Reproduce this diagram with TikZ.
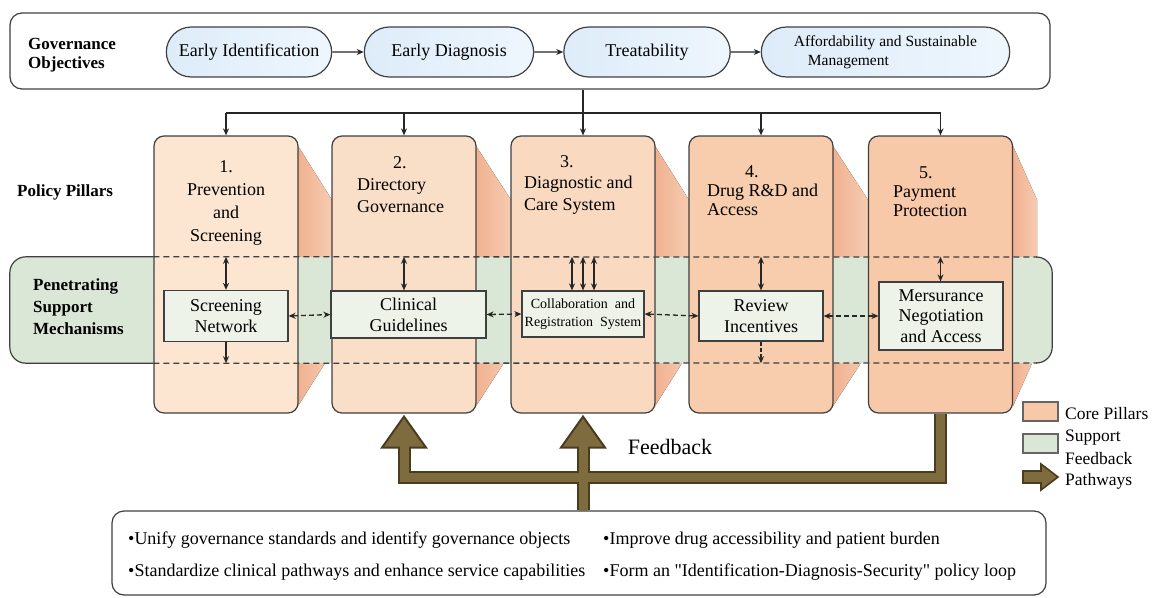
\documentclass[tikz,border=0pt]{standalone}
\usepackage{fontspec}
\setmainfont{Liberation Serif}
\usepackage{tikz}
\usetikzlibrary{shapes.geometric, shapes.misc, arrows.meta}

\definecolor{linegray}{HTML}{3F3F3F}
\definecolor{pillblue}{HTML}{DDECF9}
\definecolor{pillwhite}{HTML}{EEF6FD}
\definecolor{core1}{HTML}{FCE6D2}
\definecolor{core2}{HTML}{FADFC8}
\definecolor{core3}{HTML}{F9DAC1}
\definecolor{core4}{HTML}{F8CDAE}
\definecolor{core5}{HTML}{F8C9A8}
\definecolor{sidedark}{HTML}{F0B190}
\definecolor{sidelight}{HTML}{F6CBB1}
\definecolor{bandgreen}{HTML}{DBE7D6}
\definecolor{innerfill}{HTML}{EEF3E9}
\definecolor{fbbrown}{HTML}{7E6B3E}
\definecolor{fbdark}{HTML}{4A3C1F}

\begin{document}
\begin{tikzpicture}[x=1pt, y=-1pt, >={Stealth[length=7pt, width=6pt]}]
        \tikzstyle{panel} = [rectangle, rounded corners=12pt, draw=linegray, line width=1.2pt, fill=white]
        \tikzstyle{pill} = [rounded rectangle, draw=linegray, line width=1.2pt, minimum height=50pt, left color=pillblue, right color=pillwhite, font=\fontsize{18}{20}\selectfont]
        \tikzstyle{pillar} = [rectangle, rounded corners=10pt, draw=linegray, line width=1.2pt, minimum width=144pt, minimum height=277pt]
        \tikzstyle{pillartitle} = [font=\fontsize{18}{22}\selectfont, align=left, anchor=west, inner sep=0pt]
        \tikzstyle{sidelabel} = [font=\bfseries\fontsize{17}{20}\selectfont, align=left, anchor=west, inner sep=0pt]
        \tikzstyle{mech} = [rectangle, draw=linegray, line width=1.2pt, fill=innerfill, align=center, inner sep=0pt, font=\fontsize{18}{21}\selectfont]
        \tikzstyle{arrow} = [line width=1.3pt, ->, draw=black!85]
        \tikzstyle{dblarrow} = [line width=1.3pt, <->, draw=black!85]
        \tikzstyle{dbldash} = [line width=1.3pt, <->, draw=black!85, dash pattern=on 5pt off 3pt]
        \tikzstyle{dashline} = [line width=1.3pt, draw=linegray, dash pattern=on 6pt off 4pt]
        \tikzstyle{fbout} = [line width=13pt, draw=fbdark, line join=miter]
        \tikzstyle{fbin} = [line width=9pt, draw=fbbrown, line join=miter]
        \tikzstyle{fbhead} = [fill=fbbrown, draw=fbdark, line width=2pt, line join=miter]
        \tikzstyle{legbox} = [rectangle, draw=linegray!80, line width=1.2pt, minimum width=35pt, minimum height=19pt]
        \tikzstyle{legtext} = [font=\fontsize{17.5}{21}\selectfont, align=left, anchor=west, inner sep=0pt]
        \tikzstyle{sumtext} = [font=\fontsize{18}{20}\selectfont, anchor=west, inner sep=0pt]

        \useasboundingbox (0,0) rectangle (1161,597);

        % Governance objectives
        \node (objbox) [panel, minimum width=1040pt, minimum height=76pt] at (530,51) {};
        \node (objlabel) [sidelabel, font=\bfseries\fontsize{17}{19}\selectfont] at (28,55.5) {Governance\\Objectives};
        \node (ident) [pill, minimum width=172pt] at (249,52) {Early Identification};
        \node (diag) [pill, minimum width=176pt] at (449,52) {Early Diagnosis};
        \node (treat) [pill, minimum width=173pt] at (647,52) {Treatability};
        \node (afford) [pill, minimum width=255pt, align=left, font=\fontsize{15.5}{19}\selectfont] at (885.5,52) {Affordability and Sustainable\\\hspace*{14pt}Management};

        \draw [arrow] (ident) -- (diag);
        \draw [arrow] (diag) -- (treat);
        \draw [arrow] (treat) -- (afford);

        % Pillar sides and support band
        \foreach \xr/\w in {298/34, 476/35, 655/34, 833/35, 1013/24}
            \fill [left color=sidedark, right color=sidelight] (\xr,146) -- (\xr+\w,200) -- (\xr+\w,352) -- (\xr,406) -- cycle;
        \node (band) [rectangle, rounded corners=16pt, fill=bandgreen, minimum width=1042pt, minimum height=106pt] at (531,310) {};

        % Pillars
        \node (p1) [pillar, fill=core1] at (226,274.5) {};
        \node (p2) [pillar, fill=core2] at (404,274.5) {};
        \node (p3) [pillar, fill=core3] at (583,274.5) {};
        \node (p4) [pillar, fill=core4] at (761,274.5) {};
        \node (p5) [pillar, fill=core5] at (940.5,274.5) {};

        \draw [line width=1.2pt, draw=linegray, rounded corners=16pt] (p1.west |- band.north) -- (band.north west) -- (band.south west) -- (p1.west |- band.south);
        \draw [line width=1.2pt, draw=linegray, rounded corners=16pt] (1037,257) -- (band.north east) -- (band.south east) -- (1037,363);
        \draw [dashline] (p1.west |- band.north) -- (1037,257);
        \draw [dashline] (p1.west |- band.south) -- (1037,363);

        % Labels
        \node (pillarlabel) [sidelabel] at (17,192) {Policy Pillars};
        \node (bandlabel) [sidelabel, font=\bfseries\fontsize{17}{22}\selectfont] at (33,307) {Penetrating\\Support\\Mechanisms};

        \node (t1) [pillartitle, align=center, anchor=center, font=\fontsize{18}{23}\selectfont] at (226,202.5) {1.\\Prevention\\and\\Screening};
        \node (t2) [pillartitle] at (357,185) {\hspace*{36pt}2.\\Directory\\Governance};
        \node (t3) [pillartitle, font=\fontsize{18}{21.5}\selectfont] at (524,184.5) {\hspace*{36pt}3.\\Diagnostic and\\Care System};
        \node (t4) [pillartitle, font=\fontsize{18}{19}\selectfont] at (707,191) {\hspace*{38pt}4.\\Drug R\&D and\\Access};
        \node (t5) [pillartitle, font=\fontsize{18}{19}\selectfont] at (893,191.5) {\hspace*{26pt}5.\\Payment\\Protection};

        % Support mechanisms
        \node (screen) [mech, minimum width=124pt, minimum height=51pt] at (226,316) {Screening\\Network};
        \node (guide) [mech, minimum width=155pt, minimum height=47pt] at (408.5,314.5) {Clinical\\Guidelines};
        \node (collab) [mech, minimum width=122pt, minimum height=46pt, font=\fontsize{14}{18}\selectfont] at (583,314) {Collaboration\ \ and\\Registration\ \ System};
        \node (review) [mech, minimum width=124pt, minimum height=50pt] at (761,316) {Review\\Incentives};
        \node (mers) [mech, minimum width=124pt, minimum height=68pt, font=\fontsize{18}{20.5}\selectfont] at (941,316) {Mersurance\\Negotiation\\and Access};

        \draw [dbldash] (screen.east) -- (guide.west);
        \draw [dbldash] (guide.east) -- (collab.west);
        \draw [dbldash] (collab.east) -- (review.west);
        \draw [dbldash] (review.east) -- (mers.west);

        \draw [dblarrow] (p1 |- band.north) -- (p1 |- screen.north);
        \draw [arrow] (p1 |- screen.south) -- (p1 |- band.south);
        \draw [dblarrow] (p2 |- band.north) -- (p2 |- guide.north);
        \path (collab.north) ++(-11,0) coordinate (c1) ++(22,0) coordinate (c3);
        \draw [dblarrow] (c1 |- band.north) -- (c1);
        \draw [dblarrow] (collab.north |- band.north) -- (collab.north);
        \draw [dblarrow] (c3 |- band.north) -- (c3);
        \draw [dblarrow] (p4 |- band.north) -- (p4 |- review.north);
        \draw [arrow, dash pattern=on 4pt off 2pt] (p4 |- review.south) -- (p4 |- band.south);
        \draw [dblarrow] (p5 |- band.north) -- (p5 |- mers.north);

        % Objective arrows to pillars
        \coordinate (bus) at (583,113);
        \draw [line width=1.3pt, draw=black!85] (objbox.south -| p3) -- (bus);
        \draw [line width=1.3pt, draw=black!85] (p1 |- bus) -- (p5 |- bus);
        \foreach \p in {p1,p2,p3,p4,p5}
            \draw [arrow] (\p |- bus) -- (\p.north);

        % Summary
        \node (summary) [panel, minimum width=934pt, minimum height=84pt] at (579,553) {};
        \node (s1) [sumtext] at (128,540) {\textbullet Unify governance standards and identify governance objects};
        \node (s2) [sumtext] at (603,540) {\textbullet Improve drug accessibility and patient burden};
        \node (s3) [sumtext] at (128,572) {\textbullet Standardize clinical pathways and enhance service capabilities};
        \node (s4) [sumtext] at (603,572) {\textbullet Form an \textquotedbl Identification-Diagnosis-Security\textquotedbl\ policy loop};

        % Feedback
        \coordinate (fbbar) at (580,477);
        \filldraw [fbhead] ([yshift=-3pt]p2.south) -- ++(-22,31) -- ++(44,0) -- cycle;
        \filldraw [fbhead] ([yshift=-3pt]p3.south) -- ++(-22,31) -- ++(44,0) -- cycle;
        \draw [fbout] ([yshift=-34pt]p2.south) -- (p2.south |- fbbar) -- (p5.south |- fbbar) -- (p5.south);
        \draw [fbout] (summary.north -| p3) -- ([yshift=-34pt]p3.south);
        \draw [fbin] ([yshift=-31pt]p2.south) -- (p2.south |- fbbar) -- (p5.south |- fbbar) -- (p5.south);
        \draw [fbin] ([yshift=-1pt]summary.north -| p3) -- ([yshift=-31pt]p3.south);
        \node (fblabel) [font=\fontsize{22}{24}\selectfont] at (670,447) {Feedback};

        % Legend
        \node (legcore) [legbox, fill=core5] at (1040.5,411.5) {};
        \node (legcoretext) [legtext] at (1065,414) {Core Pillars};
        \node (legsup) [legbox, fill=bandgreen] at (1040.5,443.5) {};
        \node (legsuptext) [legtext] at (1065,438) {Support};
        \filldraw [fbhead, line width=1.6pt] (1023,471) -- (1041,471) -- (1041,464) -- (1058,477) -- (1041,490) -- (1041,483) -- (1023,483) -- cycle;
        \node (legfbtext) [legtext] at (1065,470.5) {Feedback\\Pathways};
\end{tikzpicture}
\end{document}
